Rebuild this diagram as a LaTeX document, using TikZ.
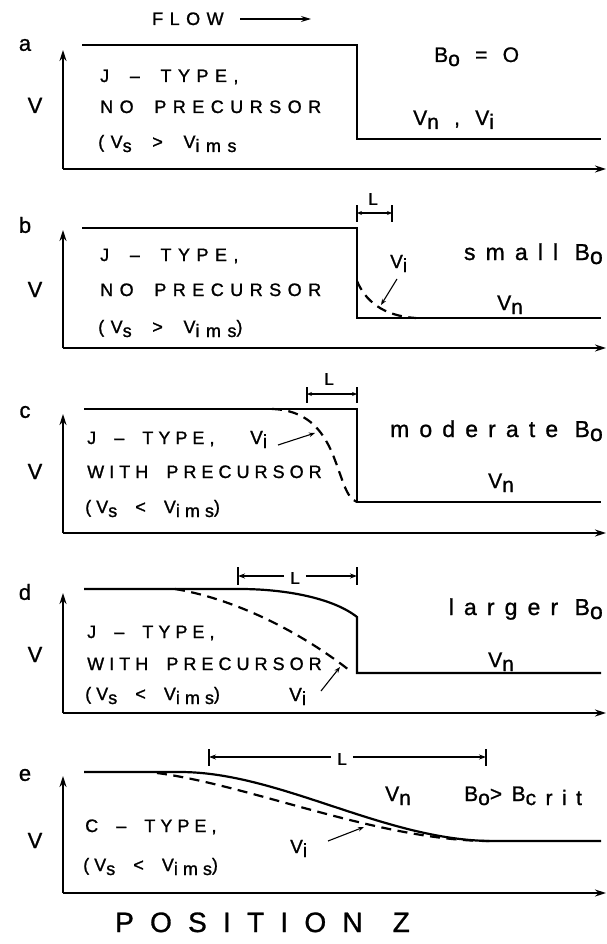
\documentclass[tikz,border=0pt]{standalone}
\usepackage{fontspec}
\setmainfont{Liberation Sans}
\newfontfamily\lettA{Liberation Sans}[LetterSpace=36,WordSpace=1.8,FakeBold=1.2]
\newfontfamily\lettC{Liberation Sans}[LetterSpace=28,WordSpace=1.8,FakeBold=1.2]
\newfontfamily\lettR{Liberation Sans}[LetterSpace=44,FakeBold=1.0]
\newfontfamily\lettB{Liberation Sans}[LetterSpace=45,FakeBold=1.0]
\newfontfamily\lettP{Liberation Sans}[LetterSpace=58,FakeBold=1.0]
\newfontfamily\plain{Liberation Sans}[FakeBold=1.0]
\usetikzlibrary{arrows.meta}
\newcommand\sbx[1]{\raisebox{-4pt}{#1}}
\begin{document}
\begin{tikzpicture}[x=1pt,y=-1pt,
  curve/.style={line width=2.2pt, line join=miter},
  dcurve/.style={line width=2.2pt, dash pattern=on 10pt off 6.5pt},
  axis/.style={line width=1.7pt, -{Stealth[length=11pt,width=7pt]}},
  txt/.style={anchor=base west, inner sep=0pt, font=\lettA\fontsize{18}{19}\selectfont},
  ctxt/.style={anchor=base west, inner sep=0pt, font=\lettC\fontsize{18}{19}\selectfont},
  rtxt/.style={anchor=base east, inner sep=0pt, font=\lettR\fontsize{23}{24}\selectfont},
  ltxt/.style={anchor=base west, inner sep=0pt, font=\lettB\fontsize{21}{24}\selectfont},
  vitxt/.style={anchor=base west, inner sep=0pt, font=\plain\fontsize{19}{24}\selectfont},
  plab/.style={inner sep=0pt, font=\plain\fontsize{22}{24}\selectfont},
  llab/.style={inner sep=0pt, font=\plain\fontsize{17}{18}\selectfont},
  vlab/.style={anchor=base, inner sep=0pt, font=\plain\fontsize{22}{24}\selectfont},
  ptr/.style={line width=1.1pt, -{Stealth[length=6pt,width=4.5pt]}},
  dimarrow/.style={line width=1.3pt, -{Stealth[length=7pt,width=5pt]}},
  dimboth/.style={line width=1.3pt, {Stealth[length=5pt,width=4pt]}-{Stealth[length=5pt,width=4pt]}},
  tickline/.style={line width=1.3pt},
  flowarrow/.style={line width=1.3pt, -{Stealth[length=10pt,width=6pt]}}]
\useasboundingbox (0,0) rectangle (607,944);

% FLOW
\node[txt] (flow) at (152,25) {FLOW};
\coordinate (f1) at (240,19); \coordinate (f2) at (311,19);
\draw[flowarrow] (f1) -- (f2);

% ---------- panel a ----------
\coordinate (a-o) at (63,169); \coordinate (a-y) at (63,50); \coordinate (a-x) at (606,169);
\draw[axis] (a-o) -- (a-y); \draw[axis] (a-o) -- (a-x);
\coordinate (a-s) at (82,45); \coordinate (a-j1) at (357,45); \coordinate (a-j2) at (357,139); \coordinate (a-e) at (601,139);
\draw[curve] (a-s) -- (a-j1) -- (a-j2) -- (a-e);
\node[plab] (a-lab) at (25,45) {a};
\node[vlab] (a-V) at (35,113) {V};
\node[txt] (a-t1) at (100,82) {J – TYPE,};
\node[txt] (a-t2) at (100,113) {NO PRECURSOR};
\node[txt] (a-t3) at (98,148) {(V\sbx{s} > V\sbx{ims}};
\node[ltxt] (a-B) at (434,62) {B\sbx{o} = O};
\node[ltxt] (a-vn) at (413,125) {V\sbx{n} , V\sbx{i}};

% ---------- panel b ----------
\coordinate (b-o) at (63,348); \coordinate (b-y) at (63,230); \coordinate (b-x) at (606,348);
\draw[axis] (b-o) -- (b-y); \draw[axis] (b-o) -- (b-x);
\coordinate (b-s) at (82,228); \coordinate (b-j1) at (357,228); \coordinate (b-j2) at (357,318); \coordinate (b-e) at (601,318);
\draw[curve] (b-s) -- (b-j1) -- (b-j2) -- (b-e);
\coordinate (b-d1) at (357,281); \coordinate (b-d2) at (416,318);
\draw[dcurve] (b-d1) .. controls (365,300) and (382,316) .. (b-d2);
\node[plab] (b-lab) at (25,225) {b};
\node[vlab] (b-V) at (35,297) {V};
\node[txt] (b-t1) at (100,261) {J – TYPE,};
\node[txt] (b-t2) at (100,296) {NO PRECURSOR};
\node[txt] (b-t3) at (98,333) {(V\sbx{s} > V\sbx{ims})};
\node[rtxt] (b-B) at (603,260) {small B\sbx{o}};
\node[ltxt] (b-vn) at (497,310) {V\sbx{n}};
\node[vitxt] (b-vi) at (390,268) {V\sbx{i}};
\coordinate (b-p1) at (397,279); \coordinate (b-p2) at (381,305);
\draw[ptr] (b-p1) -- (b-p2);
\coordinate (b-k1) at (357,205); \coordinate (b-k2) at (357,222);
\coordinate (b-k3) at (392,205); \coordinate (b-k4) at (392,222);
\draw[tickline] (b-k1) -- (b-k2); \draw[tickline] (b-k3) -- (b-k4);
\coordinate (b-m1) at (357,213); \coordinate (b-m2) at (392,213);
\draw[dimboth] (b-m1) -- (b-m2);
\node[llab] (b-L) at (373,199) {L};

% ---------- panel c ----------
\coordinate (c-o) at (63,533); \coordinate (c-y) at (63,414); \coordinate (c-x) at (606,533);
\draw[axis] (c-o) -- (c-y); \draw[axis] (c-o) -- (c-x);
\coordinate (c-s) at (84,409); \coordinate (c-j1) at (357,409); \coordinate (c-j2) at (357,502); \coordinate (c-e) at (601,502);
\draw[curve] (c-s) -- (c-j1) -- (c-j2) -- (c-e);
\coordinate (c-d1) at (272,409); \coordinate (c-dm) at (333,455); \coordinate (c-d2) at (357,502);
\draw[dcurve] (c-d1) .. controls (305,410) and (322,428) .. (c-dm) .. controls (343,480) and (346,498) .. (c-d2);
\node[plab] (c-lab) at (25,412) {c};
\node[vlab] (c-V) at (35,479) {V};
\node[ctxt] (c-t1) at (87,444) {J – TYPE,};
\node[ctxt] (c-t2) at (87,478) {WITH PRECURSOR};
\node[ctxt] (c-t3) at (85,513) {(V\sbx{s} < V\sbx{ims})};
\node[vitxt] (c-vi) at (250,444) {V\sbx{i}};
\coordinate (c-p1) at (278,445); \coordinate (c-p2) at (315,433);
\draw[ptr] (c-p1) -- (c-p2);
\node[rtxt] (c-B) at (603,437) {moderate B\sbx{o}};
\node[ltxt] (c-vn) at (488,488) {V\sbx{n}};
\coordinate (c-k1) at (307,387); \coordinate (c-k2) at (307,403);
\coordinate (c-k3) at (357,387); \coordinate (c-k4) at (357,403);
\draw[tickline] (c-k1) -- (c-k2); \draw[tickline] (c-k3) -- (c-k4);
\coordinate (c-m1) at (307,394); \coordinate (c-m2) at (357,394);
\draw[dimboth] (c-m1) -- (c-m2);
\node[llab] (c-L) at (329,379) {L};

% ---------- panel d ----------
\coordinate (d-o) at (63,713); \coordinate (d-y) at (63,593); \coordinate (d-x) at (606,713);
\draw[axis] (d-o) -- (d-y); \draw[axis] (d-o) -- (d-x);
\coordinate (d-s) at (84,589); \coordinate (d-b) at (240,589); \coordinate (d-j1) at (357,617); \coordinate (d-j2) at (357,673); \coordinate (d-e) at (601,673);
\draw[curve] (d-s) -- (d-b) .. controls (285,589) and (333,598) .. (d-j1) -- (d-j2) -- (d-e);
\coordinate (d-d1) at (175,589); \coordinate (d-d2) at (349,670);
\draw[dcurve] (d-d1) .. controls (230,598) and (295,628) .. (d-d2);
\node[plab] (d-lab) at (25,592) {d};
\node[vlab] (d-V) at (35,662) {V};
\node[ctxt] (d-t1) at (87,638) {J – TYPE,};
\node[ctxt] (d-t2) at (87,670) {WITH PRECURSOR};
\node[ctxt] (d-t3) at (85,700) {(V\sbx{s} < V\sbx{ims})};
\node[vitxt] (d-vi) at (289,701) {V\sbx{i}};
\coordinate (d-p1) at (321,691); \coordinate (d-p2) at (340,667);
\draw[ptr] (d-p1) -- (d-p2);
\node[rtxt] (d-B) at (603,615) {larger B\sbx{o}};
\node[ltxt] (d-vn) at (488,667) {V\sbx{n}};
\coordinate (d-k1) at (238,567); \coordinate (d-k2) at (238,585);
\coordinate (d-k3) at (357,567); \coordinate (d-k4) at (357,585);
\draw[tickline] (d-k1) -- (d-k2); \draw[tickline] (d-k3) -- (d-k4);
\node[llab] (d-L) at (295,578) {L};
\coordinate (d-m1) at (238,576); \coordinate (d-m2) at (357,576);
\draw[dimarrow] (d-L.west |- d-m1) ++(-6,0) -- (d-m1);
\draw[dimarrow] (d-L.east |- d-m2) ++(6,0) -- (d-m2);

% ---------- panel e ----------
\coordinate (e-o) at (63,893); \coordinate (e-y) at (63,776); \coordinate (e-x) at (606,893);
\draw[axis] (e-o) -- (e-y); \draw[axis] (e-o) -- (e-x);
\coordinate (e-s) at (84,772); \coordinate (e-b) at (180,772); \coordinate (e-c) at (493,841); \coordinate (e-e) at (601,841);
\draw[curve] (e-s) -- (e-b) .. controls (280,772) and (385,841) .. (e-c) -- (e-e);
\coordinate (e-d1) at (157,773); \coordinate (e-d2) at (490,841);
\draw[dcurve] (e-d1) .. controls (250,785) and (380,841) .. (e-d2);
\node[plab] (e-lab) at (25,775) {e};
\node[vlab] (e-V) at (35,848) {V};
\node[ctxt] (e-t1) at (85,832) {C – TYPE,};
\node[ctxt] (e-t3) at (83,871) {(V\sbx{s} < V\sbx{ims})};
\node[vitxt] (e-vi) at (290,853) {V\sbx{i}};
\coordinate (e-p1) at (328,841); \coordinate (e-p2) at (364,827);
\draw[ptr] (e-p1) -- (e-p2);
\node[ltxt] (e-vn) at (385,801) {V\sbx{n}};
\node[ltxt] (e-B) at (464,801) {B\sbx{o}>B\sbx{crit}};
\coordinate (e-k1) at (209,749); \coordinate (e-k2) at (209,766);
\coordinate (e-k3) at (486,749); \coordinate (e-k4) at (486,766);
\draw[tickline] (e-k1) -- (e-k2); \draw[tickline] (e-k3) -- (e-k4);
\node[llab] (e-L) at (342,759) {L};
\coordinate (e-m1) at (209,757); \coordinate (e-m2) at (486,757);
\draw[dimarrow] (e-L.west |- e-m1) ++(-6,0) -- (e-m1);
\draw[dimarrow] (e-L.east |- e-m2) ++(6,0) -- (e-m2);

\node[anchor=base west, inner sep=0pt, font=\lettP\fontsize{28}{30}\selectfont] (pos) at (115,932) {POSITION\hspace{30pt}Z};
\end{tikzpicture}
\end{document}
